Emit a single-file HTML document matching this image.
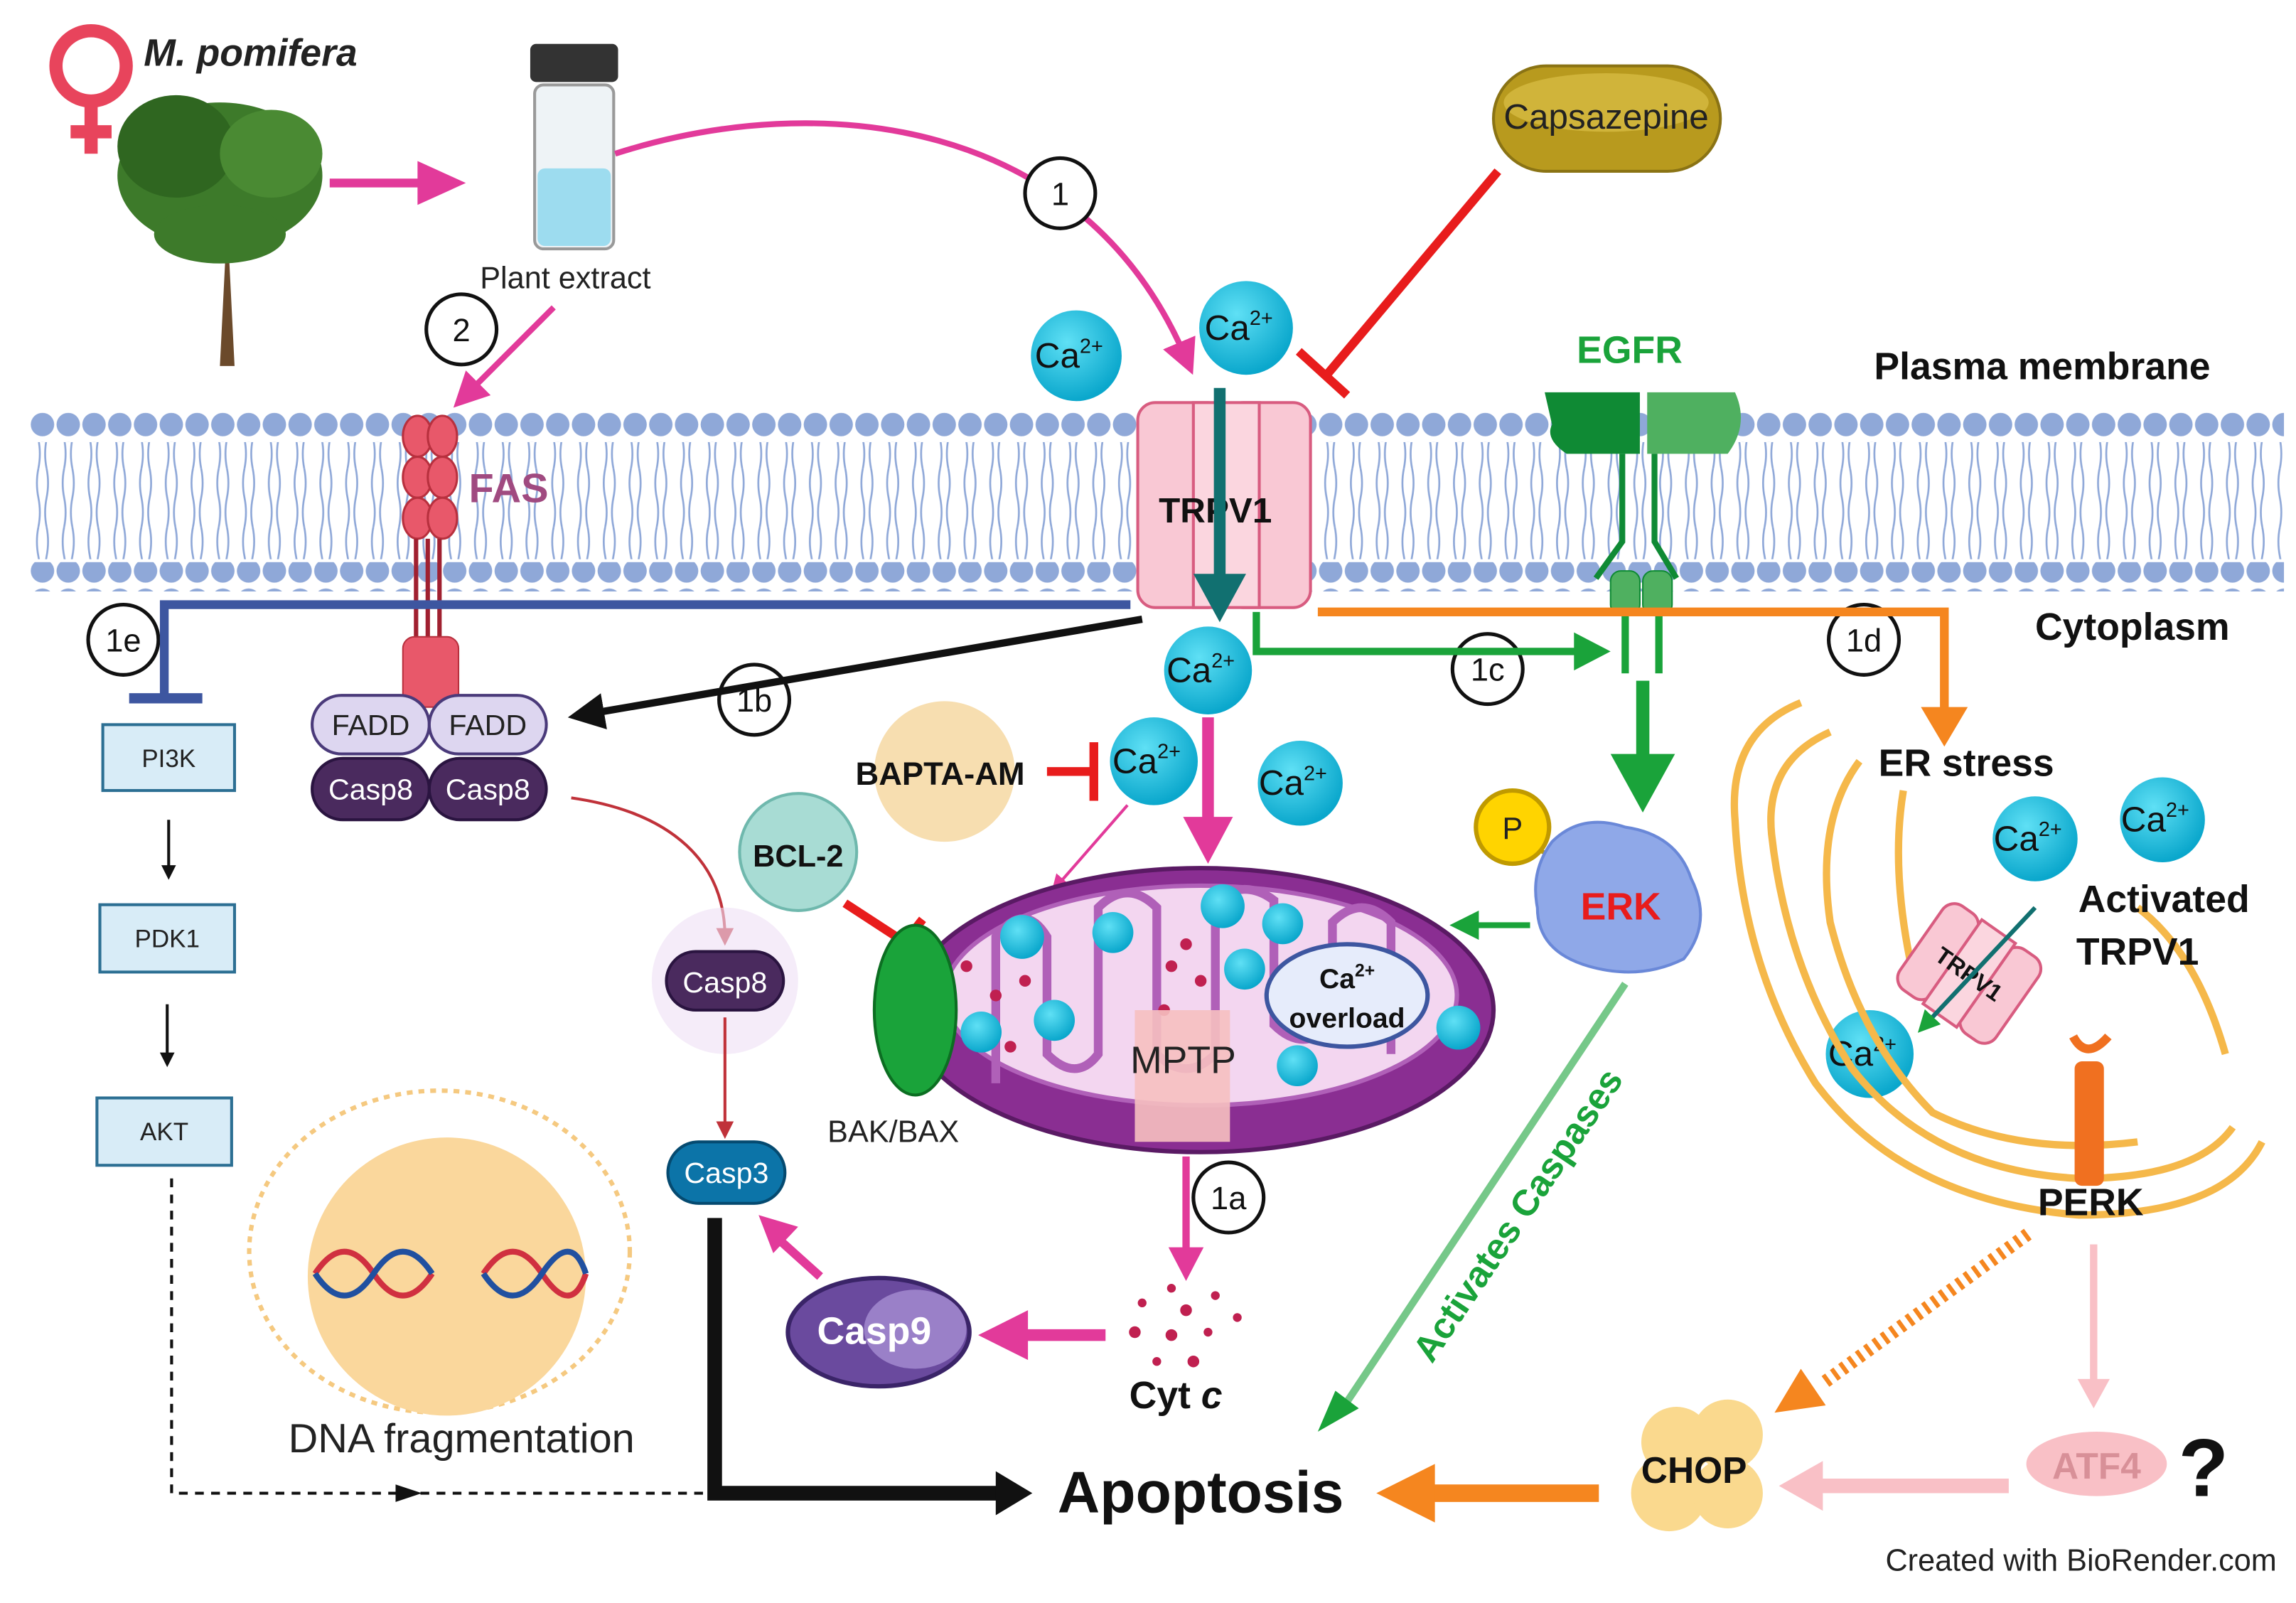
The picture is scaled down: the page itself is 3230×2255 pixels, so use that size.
<!DOCTYPE html>
<html><head><meta charset="utf-8"><style>
html,body{margin:0;padding:0;background:#fff;}
svg{display:block;}
text{font-family:"Liberation Sans",sans-serif;}
</style></head><body>
<svg width="3230" height="2255" viewBox="0 0 1568 1095" xmlns="http://www.w3.org/2000/svg">
<defs>
<pattern id="heads" x="20" y="0" width="17.6" height="20" patternUnits="userSpaceOnUse">
<circle cx="8.8" cy="10" r="8" fill="#8fa8d8"/>
</pattern>
<pattern id="tails" x="20" y="0" width="17.6" height="40" patternUnits="userSpaceOnUse">
<path d="M6 0 q-2 10 0 20 q2 10 0 20 M11.6 0 q2 10 0 20 q-2 10 0 20" stroke="#8fa8d8" stroke-width="1.3" fill="none"/>
</pattern>
<marker id="ap" markerWidth="6" markerHeight="6" refX="3" refY="3" orient="auto" markerUnits="strokeWidth"><path d="M0,0 L6,3 L0,6 z" fill="#e23a9a"/></marker>
<marker id="ak" markerWidth="5" markerHeight="5" refX="2.5" refY="2.5" orient="auto" markerUnits="strokeWidth"><path d="M0,0 L5,2.5 L0,5 z" fill="#111"/></marker>
<marker id="ag" markerWidth="5" markerHeight="5" refX="2.5" refY="2.5" orient="auto" markerUnits="strokeWidth"><path d="M0,0 L5,2.5 L0,5 z" fill="#1aa33a"/></marker>
<marker id="ao" markerWidth="5" markerHeight="5" refX="2.5" refY="2.5" orient="auto" markerUnits="strokeWidth"><path d="M0,0 L5,2.5 L0,5 z" fill="#f5861f"/></marker>
<marker id="ar" markerWidth="6" markerHeight="6" refX="3" refY="3" orient="auto" markerUnits="strokeWidth"><path d="M0,0 L6,3 L0,6 z" fill="#c0323a"/></marker>
<marker id="alp" markerWidth="5" markerHeight="5" refX="2.5" refY="2.5" orient="auto" markerUnits="strokeWidth"><path d="M0,0 L5,2.5 L0,5 z" fill="#f9c0c6"/></marker>
<marker id="ab" markerWidth="8" markerHeight="8" refX="4" refY="4" orient="auto" markerUnits="strokeWidth"><path d="M0,0 L8,4 L0,8 z" fill="#111"/></marker>
<radialGradient id="ca" cx="0.4" cy="0.35" r="0.65"><stop offset="0" stop-color="#5fe0f5"/><stop offset="1" stop-color="#0aa7cc"/></radialGradient>
<linearGradient id="erkg" x1="0" y1="0" x2="1" y2="1"><stop offset="0" stop-color="#1aa33a"/><stop offset="1" stop-color="#1aa33a" stop-opacity="0.2"/></linearGradient>
</defs>
<rect width="1568" height="1095" fill="#fff"/>

<!-- membrane -->
<rect x="20" y="282" width="1540" height="20" fill="url(#heads)"/>
<rect x="20" y="302" width="1540" height="80" fill="url(#tails)"/>
<rect x="20" y="384" width="1540" height="20" fill="url(#heads)"/>

<!-- female symbol + title -->
<circle cx="62" cy="45" r="24" fill="none" stroke="#e8445c" stroke-width="9"/>
<path d="M62 69 v36 M48 90 h28" stroke="#e8445c" stroke-width="9"/>
<text x="98" y="45" font-size="26" font-weight="bold" font-style="italic" fill="#222">M. pomifera</text>
<!-- tree -->
<path d="M150 250 L155 150 L160 250 Z" fill="#6b4a2b"/>
<ellipse cx="150" cy="120" rx="70" ry="50" fill="#3d7a2a"/>
<ellipse cx="120" cy="100" rx="40" ry="35" fill="#2f6620"/>
<ellipse cx="185" cy="105" rx="35" ry="30" fill="#4a8a33"/>
<ellipse cx="150" cy="160" rx="45" ry="20" fill="#3d7a2a"/>
<path d="M225 125 H290" stroke="#e23a9a" stroke-width="6"/><path d="M285 110 L318 125 L285 140Z" fill="#e23a9a"/>
<!-- vial -->
<rect x="362" y="30" width="60" height="26" rx="4" fill="#333"/>
<rect x="365" y="58" width="54" height="112" rx="6" fill="#eef3f6" stroke="#999" stroke-width="2"/>
<rect x="367" y="115" width="50" height="53" rx="5" fill="#9ddcef"/>
<text x="386" y="197" font-size="21" text-anchor="middle" fill="#222">Plant extract</text>
<path d="M420 105 C560 60 740 80 810 245" stroke="#e23a9a" stroke-width="4" fill="none" marker-end="url(#ap)"/>
<path d="M378 210 L318 270" stroke="#e23a9a" stroke-width="4" fill="none" marker-end="url(#ap)"/>

<!-- numbered circles -->
<g font-size="22" text-anchor="middle" fill="#111">
<circle cx="724" cy="132" r="24" fill="#fff" stroke="#111" stroke-width="2.5"/><text x="724" y="140">1</text>
<circle cx="315" cy="225" r="24" fill="#fff" stroke="#111" stroke-width="2.5"/><text x="315" y="233">2</text>
<circle cx="84" cy="437" r="24" fill="#fff" stroke="#111" stroke-width="2.5"/><text x="84" y="445">1e</text>
<circle cx="515" cy="478" r="24" fill="#fff" stroke="#111" stroke-width="2.5"/><text x="515" y="486">1b</text>
<circle cx="1016" cy="457" r="24" fill="#fff" stroke="#111" stroke-width="2.5"/><text x="1016" y="465">1c</text>
<circle cx="1273" cy="437" r="24" fill="#fff" stroke="#111" stroke-width="2.5"/><text x="1273" y="445">1d</text>
<circle cx="839" cy="818" r="24" fill="#fff" stroke="#111" stroke-width="2.5"/><text x="839" y="826">1a</text>
</g>

<!-- capsazepine -->
<rect x="1020" y="45" width="155" height="72" rx="36" fill="#b89a1e" stroke="#8a7314" stroke-width="2"/>
<ellipse cx="1097" cy="70" rx="70" ry="20" fill="#d0b43a"/>
<text x="1097" y="88" font-size="24" text-anchor="middle" fill="#222">Capsazepine</text>
<path d="M1023 117 L907 255" stroke="#e81c1c" stroke-width="6"/>
<path d="M887 240 L920 270" stroke="#e81c1c" stroke-width="6"/>

<!-- TRPV1 -->
<rect x="777" y="275" width="60" height="140" rx="12" fill="#f9c8d4" stroke="#d85c80" stroke-width="2"/>
<rect x="837" y="275" width="58" height="140" rx="12" fill="#f9c8d4" stroke="#d85c80" stroke-width="2"/>
<rect x="815" y="275" width="45" height="140" fill="#fbd6df" stroke="#d85c80" stroke-width="2"/>
<text x="830" y="357" font-size="24" font-weight="bold" text-anchor="middle" fill="#111">TRPV1</text>
<path d="M833 265 V395" stroke="#117070" stroke-width="8"/><path d="M815 392 L833 425 L851 392Z" fill="#117070"/>

<!-- Ca ions -->
<g font-size="24" fill="#111" text-anchor="middle">
<circle cx="735" cy="243" r="31" fill="url(#ca)"/><text x="730" y="251">Ca<tspan font-size="14" dy="-10">2+</tspan></text>
<circle cx="851" cy="224" r="32" fill="url(#ca)"/><text x="846" y="232">Ca<tspan font-size="14" dy="-10">2+</tspan></text>
<circle cx="825" cy="458" r="30" fill="url(#ca)"/><text x="820" y="466">Ca<tspan font-size="14" dy="-10">2+</tspan></text>
<circle cx="788" cy="520" r="30" fill="url(#ca)"/><text x="783" y="528">Ca<tspan font-size="14" dy="-10">2+</tspan></text>
<circle cx="888" cy="535" r="29" fill="url(#ca)"/><text x="883" y="543">Ca<tspan font-size="14" dy="-10">2+</tspan></text>
<circle cx="1390" cy="573" r="29" fill="url(#ca)"/><text x="1385" y="581">Ca<tspan font-size="14" dy="-10">2+</tspan></text>
<circle cx="1477" cy="560" r="29" fill="url(#ca)"/><text x="1472" y="568">Ca<tspan font-size="14" dy="-10">2+</tspan></text>
<circle cx="1277" cy="720" r="30" fill="url(#ca)"/><text x="1272" y="728">Ca<tspan font-size="14" dy="-10">2+</tspan></text>
</g>

<!-- FAS -->
<g fill="#e8586a" stroke="#b8303e" stroke-width="1.5">
<ellipse cx="285" cy="298" rx="10" ry="14"/><ellipse cx="302" cy="298" rx="10" ry="14"/>
<ellipse cx="285" cy="326" rx="10" ry="14"/><ellipse cx="302" cy="326" rx="10" ry="14"/>
<ellipse cx="285" cy="354" rx="10" ry="14"/><ellipse cx="302" cy="354" rx="10" ry="14"/>
</g>
<path d="M284 368 V440 M292 368 V440 M300 368 V440" stroke="#a02030" stroke-width="3"/>
<rect x="275" y="435" width="38" height="48" rx="8" fill="#e8586a" stroke="#b8303e"/>
<text x="320" y="343" font-size="28" font-weight="bold" fill="#a04a80">FAS</text>
<g font-size="20" text-anchor="middle">
<rect x="213" y="475" width="80" height="40" rx="20" fill="#ddd6f0" stroke="#4a3a7a" stroke-width="2"/><text x="253" y="502" fill="#222">FADD</text>
<rect x="293" y="475" width="80" height="40" rx="20" fill="#ddd6f0" stroke="#4a3a7a" stroke-width="2"/><text x="333" y="502" fill="#222">FADD</text>
<rect x="213" y="518" width="80" height="42" rx="21" fill="#4a2a5e" stroke="#2a1440" stroke-width="2"/><text x="253" y="546" fill="#fff">Casp8</text>
<rect x="293" y="518" width="80" height="42" rx="21" fill="#4a2a5e" stroke="#2a1440" stroke-width="2"/><text x="333" y="546" fill="#fff">Casp8</text>
</g>
<path d="M780 423 L400 488" stroke="#111" stroke-width="5" marker-end="url(#ak)"/>

<!-- 1e inhibitor -->
<path d="M772 413 H112 V475" stroke="#3d56a0" stroke-width="6" fill="none"/>
<path d="M88 477 H138" stroke="#3d56a0" stroke-width="7"/>
<g font-size="17" text-anchor="middle" fill="#222">
<rect x="70" y="495" width="90" height="45" fill="#d8ecf7" stroke="#2c6f93" stroke-width="2"/><text x="115" y="524">PI3K</text>
<rect x="68" y="618" width="92" height="46" fill="#d8ecf7" stroke="#2c6f93" stroke-width="2"/><text x="114" y="647">PDK1</text>
<rect x="66" y="750" width="92" height="46" fill="#d8ecf7" stroke="#2c6f93" stroke-width="2"/><text x="112" y="779">AKT</text>
</g>
<path d="M115 560 V596" stroke="#111" stroke-width="2" marker-end="url(#ak)"/>
<path d="M114 686 V724" stroke="#111" stroke-width="2" marker-end="url(#ak)"/>
<path d="M117 805 V1020 H480" stroke="#111" stroke-width="2" stroke-dasharray="6,5" fill="none"/>
<path d="M270 1014 L288 1020 L270 1026Z" fill="#111"/>

<!-- DNA fragmentation -->
<ellipse cx="300" cy="855" rx="130" ry="110" fill="none" stroke="#f5c980" stroke-width="3" stroke-dasharray="4,4"/>
<circle cx="305" cy="872" r="95" fill="#fad79c"/>
<path d="M215 870 q20 -30 40 0 t40 0 M330 870 q20 -30 40 0 t30 0" stroke="#d03040" stroke-width="4" fill="none"/>
<path d="M215 870 q20 30 40 0 t40 0 M330 870 q20 30 40 0 t30 0" stroke="#2050a0" stroke-width="4" fill="none"/>
<text x="315" y="992" font-size="28" text-anchor="middle" fill="#222">DNA fragmentation</text>

<!-- Casp cascade -->
<path d="M390 545 C460 555 495 590 495 640" stroke="#c0323a" stroke-width="2" fill="none" marker-end="url(#ar)"/>
<circle cx="495" cy="670" r="50" fill="#efe0f5" opacity="0.6"/>
<rect x="455" y="650" width="80" height="40" rx="20" fill="#4a2a5e" stroke="#2a1440" stroke-width="2"/>
<text x="495" y="678" font-size="20" text-anchor="middle" fill="#fff">Casp8</text>
<path d="M495 695 V772" stroke="#c0323a" stroke-width="2" marker-end="url(#ar)"/>
<rect x="456" y="780" width="80" height="42" rx="21" fill="#0c74a8" stroke="#054a70" stroke-width="2"/>
<text x="496" y="808" font-size="20" text-anchor="middle" fill="#fff">Casp3</text>
<path d="M488 832 V1020 H690" stroke="#111" stroke-width="10" fill="none"/>
<path d="M680 1005 L705 1020 L680 1035Z" fill="#111"/>
<ellipse cx="600" cy="910" rx="62" ry="37" fill="#6a4a9e" stroke="#3a2468" stroke-width="3"/>
<ellipse cx="625" cy="908" rx="35" ry="27" fill="#9a80c8"/>
<text x="597" y="918" font-size="26" font-weight="bold" text-anchor="middle" fill="#fff">Casp9</text>
<path d="M560 872 L530 845" stroke="#e23a9a" stroke-width="6"/><path d="M518 830 L545 838 L528 856Z" fill="#e23a9a"/>
<path d="M755 912 H700" stroke="#e23a9a" stroke-width="8"/><path d="M702 895 L668 912 L702 929Z" fill="#e23a9a"/>

<!-- BAPTA / BCL-2 -->
<circle cx="645" cy="527" r="48" fill="#f7deb0"/>
<text x="642" y="536" font-size="22" font-weight="bold" text-anchor="middle" fill="#111">BAPTA-AM</text>
<path d="M715 527 H745 M747 507 V547" stroke="#e81c1c" stroke-width="6" fill="none"/>
<circle cx="545" cy="582" r="40" fill="#a8dcd4" stroke="#6fb8ad" stroke-width="2"/>
<text x="545" y="592" font-size="21" font-weight="bold" text-anchor="middle" fill="#111">BCL-2</text>
<path d="M577 617 L620 645 M605 660 L630 628" stroke="#e81c1c" stroke-width="6"/>
<path d="M770 550 L722 605" stroke="#e23a9a" stroke-width="2" marker-end="url(#ap)"/>
<path d="M825 490 V560" stroke="#e23a9a" stroke-width="8"/><path d="M808 558 L825 590 L842 558Z" fill="#e23a9a"/>

<!-- mitochondrion -->
<ellipse cx="820" cy="690" rx="200" ry="97" fill="#8a2e92" stroke="#5a1a64" stroke-width="3"/>
<ellipse cx="820" cy="680" rx="175" ry="75" fill="#f3d6f0" stroke="#b060b8" stroke-width="3"/>
<path d="M680 740 V640 Q700 615 715 640 V720 Q735 740 750 720 V620 Q770 600 790 620 V720 Q810 740 830 720 V615 Q850 600 870 615 V700 Q890 720 910 700 V630 Q930 610 950 630 V720" stroke="#b060b8" stroke-width="6" fill="none"/>
<g fill="url(#ca)">
<circle cx="698" cy="640" r="15"/><circle cx="670" cy="705" r="14"/><circle cx="720" cy="697" r="14"/><circle cx="760" cy="637" r="14"/>
<circle cx="835" cy="619" r="15"/><circle cx="876" cy="631" r="14"/><circle cx="850" cy="662" r="14"/><circle cx="996" cy="702" r="15"/><circle cx="886" cy="728" r="14"/>
</g>
<g fill="#c02050"><circle cx="680" cy="680" r="4"/><circle cx="700" cy="670" r="4"/><circle cx="690" cy="715" r="4"/><circle cx="800" cy="660" r="4"/><circle cx="820" cy="670" r="4"/><circle cx="795" cy="690" r="4"/><circle cx="810" cy="645" r="4"/><circle cx="660" cy="660" r="4"/></g>
<ellipse cx="920" cy="680" rx="55" ry="35" fill="#e6ecfb" stroke="#3d56a0" stroke-width="3"/>
<text x="920" y="675" font-size="19" font-weight="bold" text-anchor="middle" fill="#111">Ca<tspan font-size="12" dy="-8">2+</tspan></text>
<text x="920" y="702" font-size="19" font-weight="bold" text-anchor="middle" fill="#111">overload</text>
<path d="M775 690 h65 v90 h-65z" fill="#f6c0c0" opacity="0.9"/>
<text x="808" y="733" font-size="26" text-anchor="middle" fill="#222">MPTP</text>
<ellipse cx="625" cy="690" rx="28" ry="58" fill="#1aa33a" stroke="#0c6e22" stroke-width="2"/>
<text x="610" y="780" font-size="21" text-anchor="middle" fill="#222">BAK/BAX</text>
<path d="M810 790 V855" stroke="#e23a9a" stroke-width="5"/><path d="M798 852 L810 875 L822 852Z" fill="#e23a9a"/>
<g fill="#c02050"><circle cx="800" cy="880" r="3"/><circle cx="780" cy="890" r="3"/><circle cx="810" cy="895" r="4"/><circle cx="830" cy="885" r="3"/><circle cx="775" cy="910" r="4"/><circle cx="800" cy="912" r="4"/><circle cx="825" cy="910" r="3"/><circle cx="845" cy="900" r="3"/><circle cx="790" cy="930" r="3"/><circle cx="815" cy="930" r="4"/></g>
<text x="803" y="962" font-size="26" font-weight="bold" text-anchor="middle" fill="#111">Cyt <tspan font-style="italic">c</tspan></text>

<!-- EGFR -->
<text x="1113" y="248" font-size="26" font-weight="bold" text-anchor="middle" fill="#1aa33a">EGFR</text>
<path d="M1055 268 H1120 V310 H1070 Q1055 300 1060 290 Z" fill="#0f8a34"/>
<path d="M1125 268 H1185 Q1195 290 1180 310 H1125Z" fill="#4fb060"/>
<path d="M1108 310 V370 L1090 395 M1130 310 V370 L1145 395" stroke="#0f8a34" stroke-width="4" fill="none"/>
<rect x="1100" y="390" width="20" height="30" rx="7" fill="#4fb060" stroke="#0f8a34"/>
<rect x="1122" y="390" width="20" height="30" rx="7" fill="#4fb060" stroke="#0f8a34"/>
<path d="M1110 420 V460 M1133 420 V460" stroke="#1aa33a" stroke-width="5"/>
<path d="M858 418 V445 H1085" stroke="#1aa33a" stroke-width="5" fill="none"/>
<path d="M1075 432 L1100 445 L1075 458Z" fill="#1aa33a"/>
<path d="M1122 465 V520" stroke="#1aa33a" stroke-width="9"/>
<path d="M1100 515 L1122 555 L1144 515Z" fill="#1aa33a"/>
<text x="1280" y="259" font-size="26" font-weight="bold" fill="#111">Plasma membrane</text>
<text x="1390" y="437" font-size="26" font-weight="bold" fill="#111">Cytoplasm</text>

<!-- ERK -->
<path d="M1060 585 L1030 570" stroke="#b89a1e" stroke-width="3"/>
<circle cx="1033" cy="565" r="25" fill="#ffd400" stroke="#c09a00" stroke-width="3"/>
<text x="1033" y="573" font-size="21" text-anchor="middle" fill="#222">P</text>
<path d="M1060 575 Q1080 555 1110 565 Q1145 570 1155 600 Q1170 630 1150 655 Q1120 670 1085 660 Q1050 650 1050 620 Q1045 595 1060 575Z" fill="#8fa8e8" stroke="#6a88d8" stroke-width="2"/>
<text x="1107" y="628" font-size="26" font-weight="bold" text-anchor="middle" fill="#e81c1c">ERK</text>
<path d="M1045 632 H1000" stroke="#1aa33a" stroke-width="4" marker-end="url(#ag)"/>
<path d="M1110 672 L915 965" stroke="url(#erkg)" stroke-width="5"/>
<path d="M912 950 L900 978 L928 962Z" fill="#1aa33a"/>
<text x="0" y="0" font-size="25" font-weight="bold" fill="#1aa33a" transform="translate(978,932) rotate(-56)">Activates Caspases</text>

<!-- ER / orange -->
<path d="M900 418 H1328 V490" stroke="#f5861f" stroke-width="6" fill="none"/>
<path d="M1312 483 L1328 510 L1344 483Z" fill="#f5861f"/>
<text x="1343" y="530" font-size="26" font-weight="bold" text-anchor="middle" fill="#111">ER stress</text>
<g stroke="#f5b84a" stroke-width="5" fill="none">
<path d="M1230 480 Q1180 500 1185 560 Q1190 660 1240 740 Q1300 820 1420 830 Q1520 830 1545 780"/>
<path d="M1250 500 Q1205 520 1210 570 Q1220 660 1265 730 Q1320 800 1420 805 Q1500 805 1525 770"/>
<path d="M1270 520 Q1240 560 1250 630 Q1270 710 1320 760 Q1380 790 1460 780"/>
<path d="M1300 540 Q1290 600 1310 680 M1460 620 Q1500 650 1520 720"/>
</g>
<g transform="translate(1345,665) rotate(35)">
<rect x="-40" y="-35" width="28" height="70" rx="10" fill="#f9c8d4" stroke="#d85c80" stroke-width="2"/>
<rect x="12" y="-35" width="28" height="70" rx="10" fill="#f9c8d4" stroke="#d85c80" stroke-width="2"/>
<rect x="-14" y="-35" width="28" height="70" fill="#fbd6df" stroke="#d85c80" stroke-width="2"/>
<text x="0" y="6" font-size="16" font-weight="bold" text-anchor="middle" fill="#111">TRPV1</text>
</g>
<path d="M1390 620 L1315 700" stroke="#117070" stroke-width="3" marker-end="url(#ag)"/>
<text x="1478" y="623" font-size="26" font-weight="bold" text-anchor="middle" fill="#111">Activated</text>
<text x="1460" y="659" font-size="26" font-weight="bold" text-anchor="middle" fill="#111">TRPV1</text>
<path d="M1416 708 Q1425 725 1440 708" stroke="#f07020" stroke-width="6" fill="none"/>
<rect x="1417" y="725" width="20" height="85" rx="5" fill="#f07020"/>
<text x="1428" y="830" font-size="26" font-weight="bold" text-anchor="middle" fill="#111">PERK</text>
<path d="M1385 843 L1245 945" stroke="#f5861f" stroke-width="9" stroke-dasharray="3,4"/>
<path d="M1230 935 L1212 965 L1247 960Z" fill="#f5861f"/>
<path d="M1430 850 V945" stroke="#f9c0c6" stroke-width="5"/><path d="M1419 942 L1430 962 L1441 942Z" fill="#f9c0c6"/>
<ellipse cx="1432" cy="1000" rx="48" ry="22" fill="#f9c0c6"/>
<text x="1432" y="1010" font-size="25" font-weight="bold" text-anchor="middle" fill="#d89098">ATF4</text>
<text x="1505" y="1022" font-size="56" font-weight="bold" text-anchor="middle" fill="#111">?</text>
<path d="M1372 1015 H1240" stroke="#f9c0c6" stroke-width="10"/><path d="M1245 998 L1215 1015 L1245 1032Z" fill="#f9c0c6"/>
<circle cx="1140" cy="1020" r="26" fill="#fad98e"/><circle cx="1180" cy="980" r="24" fill="#fad98e"/><circle cx="1145" cy="985" r="24" fill="#fad98e"/><circle cx="1180" cy="1020" r="24" fill="#fad98e"/>
<text x="1157" y="1013" font-size="25" font-weight="bold" text-anchor="middle" fill="#111">CHOP</text>
<path d="M1092 1020 H975" stroke="#f5861f" stroke-width="12"/><path d="M980 1000 L940 1020 L980 1040Z" fill="#f5861f"/>

<text x="820" y="1033" font-size="40" font-weight="bold" text-anchor="middle" fill="#111">Apoptosis</text>
<text x="1555" y="1073" font-size="21" text-anchor="end" fill="#222">Created with BioRender.com</text>
</svg>
</body></html>
